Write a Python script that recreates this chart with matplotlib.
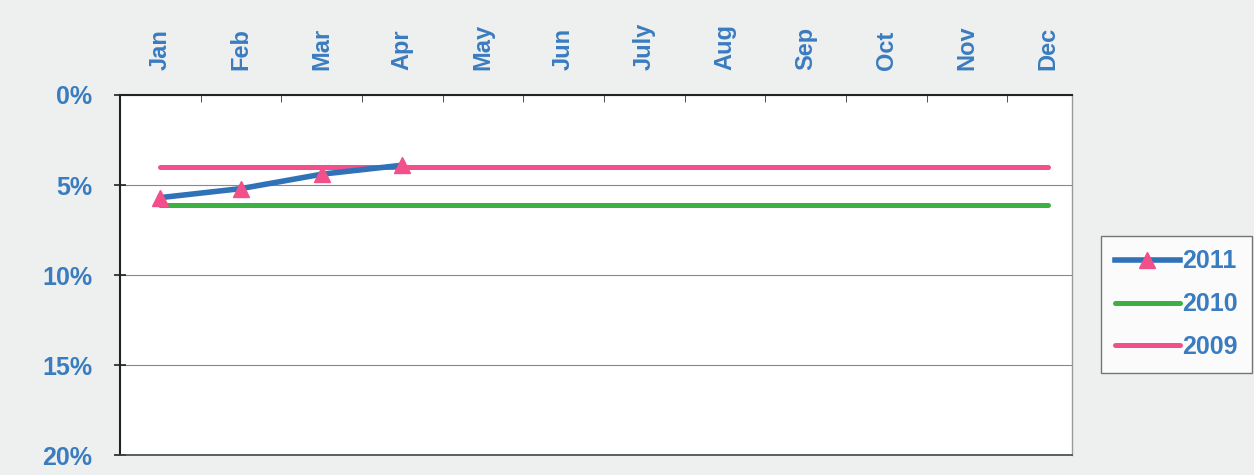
import matplotlib
matplotlib.use("Agg")
import matplotlib.pyplot as plt
from matplotlib.ticker import FuncFormatter, MultipleLocator

months = ["Jan", "Feb", "Mar", "Apr", "May", "Jun", "July", "Aug", "Sep", "Oct", "Nov", "Dec"]
s2011 = [5.7, 5.2, 4.4, 3.9]
s2010 = [6.1] * 12
s2009 = [4.0] * 12

label_color = "#3a7cc0"
plt.rcParams['font.family'] = ['Liberation Sans', 'DejaVu Sans']

fig = plt.figure(figsize=(12.54, 4.75), dpi=100)
fig.patch.set_facecolor("#eef0ef")
ax = fig.add_axes([0.0957, 0.042, 0.759, 0.758])
ax.set_facecolor("white")

x = list(range(len(months)))
ax.plot(x, s2010, color="#3cb043", lw=3.6, label="2010", zorder=3, solid_capstyle="round")
ax.plot(x, s2009, color="#f2508a", lw=3.6, label="2009", zorder=3, solid_capstyle="round")
ax.plot(x[:len(s2011)], s2011, color="#2f72b8", lw=4, marker="^", markersize=11,
        markerfacecolor="#f2508a", markeredgecolor="#f2508a", label="2011", zorder=4)

ax.set_ylim(20, 0)
ax.set_xlim(-0.5, 11.3)
ax.yaxis.set_major_locator(MultipleLocator(5))
ax.yaxis.set_major_formatter(FuncFormatter(lambda v, p: f"{int(v)}%"))
ax.grid(axis="y", color="#888888", lw=0.8)
ax.set_axisbelow(True)

ax.xaxis.tick_top()
ax.set_xticks(x)
ax.set_xticklabels(months, rotation=90, fontsize=17, fontweight="bold", color=label_color)
ax.set_xticks([i + 0.5 for i in range(-1, 11)], minor=True)
ax.tick_params(axis="x", which="major", length=0, pad=18)
ax.tick_params(axis="x", which="minor", length=5, direction="in", color="#333333")
ax.tick_params(axis="y", length=8, direction="inout", width=1.2, color="#222222",
               labelsize=18, labelcolor=label_color, pad=16)
for lab in ax.get_yticklabels():
    lab.set_fontweight("bold")

for side in ["left", "top"]:
    ax.spines[side].set_color("#222222")
    ax.spines[side].set_linewidth(1.5)
ax.spines["bottom"].set_color("#444444")
ax.spines["bottom"].set_linewidth(1.2)
ax.spines["right"].set_color("#999999")
ax.spines["right"].set_linewidth(1.0)

handles, labels = ax.get_legend_handles_labels()
order = [2, 0, 1]
leg = fig.legend([handles[i] for i in order], [labels[i] for i in order],
                 loc="upper left", bbox_to_anchor=(0.868, 0.53),
                 frameon=True, fancybox=False, edgecolor="#555555",
                 prop={"size": 18, "weight": "bold"}, handlelength=2.6,
                 labelspacing=0.75, borderpad=0.55, handletextpad=0.1)
for t in leg.get_texts():
    t.set_color(label_color)

fig.savefig("out.png", dpi=100, facecolor=fig.get_facecolor())
